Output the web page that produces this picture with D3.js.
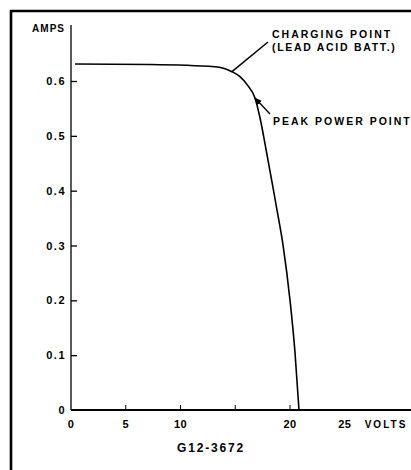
<!DOCTYPE html>
<html><head><meta charset="utf-8">
<script src="https://cdn.jsdelivr.net/npm/d3@7"></script>
<style>body{margin:0;background:#fff}svg{display:block}text{font-family:"Liberation Sans",Arial,sans-serif;font-weight:bold;fill:#000}</style>
</head><body><svg id="c" width="411" height="470"></svg>
<script>
const volts   = [0.37, 7.2, 13.15, 14.7, 15.43, 16.1, 16.8, 17.26, 17.85, 18.4, 18.81, 19.36, 20.0, 20.46, 20.82];
const amps    = [0.631, 0.630, 0.626, 0.617, 0.608, 0.593, 0.569, 0.533, 0.471, 0.411, 0.365, 0.301, 0.200, 0.104, 0.0];
const xTickMarks  = [5, 10, 15, 20];
const xTickLabels = [0, 5, 10, 20, 25];
const yTicks      = [0, 0.1, 0.2, 0.3, 0.4, 0.5, 0.6];
const chargingPoint = [14.7, 0.617];
const peakPoint     = [16.8, 0.569];

const svg = d3.select("#c");
const x = d3.scaleLinear().domain([0, 31.05]).range([71, 411]);
const y = d3.scaleLinear().domain([0, 0.6]).range([410, 81]);

// frame
svg.append("path").attr("d","M11,480 L11,11 L420,11").attr("fill","none").attr("stroke","#000").attr("stroke-width",2.6);

// y axis
svg.append("line").attr("x1",71).attr("x2",71).attr("y1",25).attr("y2",410).attr("stroke","#000").attr("stroke-width",1.3);
const yAxis = d3.axisLeft(y).tickValues(yTicks).tickSize(0).tickPadding(5)
  .tickFormat(d => d === 0 ? "0" : d3.format(".1f")(d));
const gy = svg.append("g").attr("transform","translate(71,0)").call(yAxis);
gy.select(".domain").remove();
gy.selectAll("text").attr("font-size",11).style("font-family","Liberation Sans, Arial, sans-serif").style("font-weight","bold").attr("letter-spacing",1.5);
gy.selectAll(".tick").filter(d=>d>0).append("line").attr("x1",0).attr("x2",6).attr("stroke","#000").attr("stroke-width",1.3);

svg.append("text").attr("x",65).attr("y",32).attr("text-anchor","end").attr("font-size",10).attr("letter-spacing",1).text("AMPS");

// x axis
svg.append("line").attr("x1",71).attr("x2",411).attr("y1",410).attr("y2",410).attr("stroke","#000").attr("stroke-width",1.8);
const gx = svg.append("g").attr("transform","translate(0,410)");
gx.selectAll("line.tm").data(xTickMarks).join("line").attr("class","tm")
  .attr("x1",d=>x(d)).attr("x2",d=>x(d)).attr("y1",0).attr("y2",-5).attr("stroke","#000").attr("stroke-width",1);
gx.selectAll("text").data(xTickLabels).join("text")
  .attr("x",d=>x(d)).attr("y",18).attr("text-anchor","middle").attr("font-size",11).attr("letter-spacing",0.5).text(d=>d);
svg.append("text").attr("x",386).attr("y",428).attr("text-anchor","middle").attr("font-size",10).attr("letter-spacing",2).text("VOLTS");
svg.append("text").attr("x",211).attr("y",452).attr("text-anchor","middle").attr("font-size",12).attr("letter-spacing",1.8).text("G12-3672");

// curve
const pts = volts.map((v,i)=>[v, amps[i]]);
svg.append("path").datum(pts).attr("d", d3.line().x(d=>x(d[0])).y(d=>y(d[1])).curve(d3.curveMonotoneX))
  .attr("fill","none").attr("stroke","#000").attr("stroke-width",1.6);

// annotations
const cx = x(chargingPoint[0]), cy = y(chargingPoint[1]);
svg.append("line").attr("x1",cx).attr("y1",cy).attr("x2",268).attr("y2",42).attr("stroke","#000").attr("stroke-width",1.5);
svg.append("text").attr("x",272).attr("y",38).attr("font-size",10.5).attr("letter-spacing",2).text("CHARGING POINT");
svg.append("text").attr("x",272).attr("y",51).attr("font-size",10.5).attr("letter-spacing",1.7).text("(LEAD ACID BATT.)");

const px = x(peakPoint[0]), py = y(peakPoint[1]);
svg.append("defs").append("marker").attr("id","ah").attr("viewBox","0 0 10 10").attr("refX",9).attr("refY",5)
  .attr("markerWidth",6).attr("markerHeight",6).attr("orient","auto")
  .append("path").attr("d","M0,1 L10,5 L0,9 Z").attr("fill","#000");
svg.append("line").attr("x1",270).attr("y1",114).attr("x2",px).attr("y2",py).attr("stroke","#000").attr("stroke-width",1.3).attr("marker-end","url(#ah)");
svg.append("text").attr("x",273).attr("y",125).attr("font-size",10.5).attr("letter-spacing",2).text("PEAK POWER POINT");
</script></body></html>
